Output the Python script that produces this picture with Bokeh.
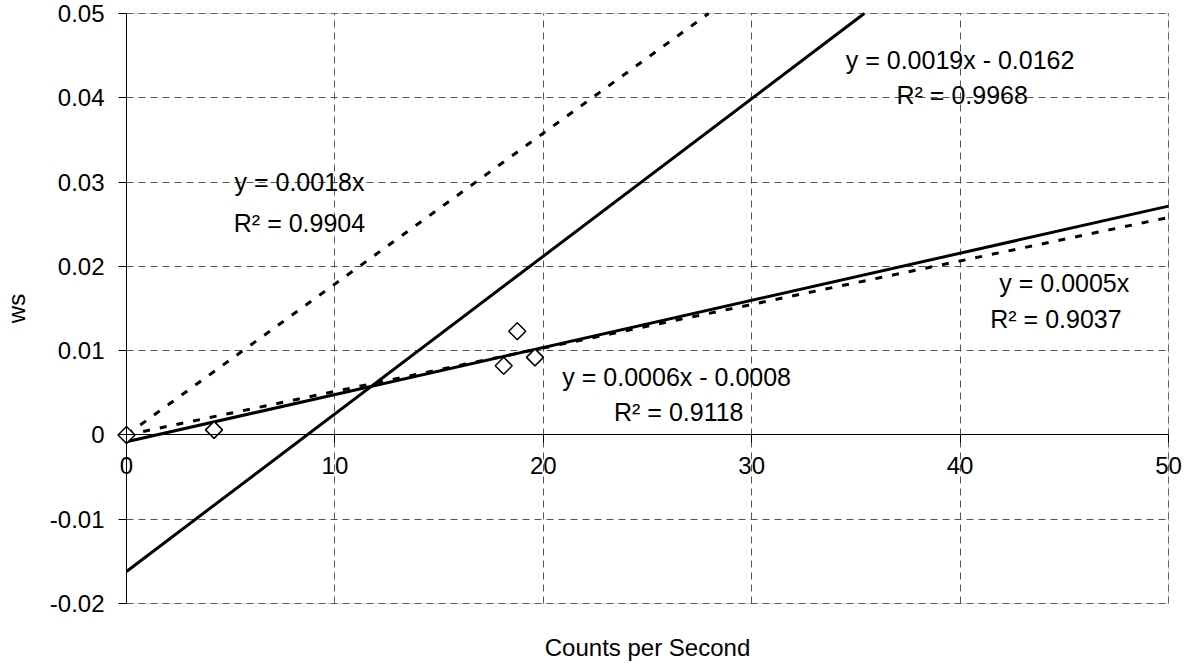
import math
from bokeh.plotting import figure
from bokeh.models import (Range1d, FixedTicker, ColumnDataSource, Label,
                          BoxAnnotation)
from bokeh.embed import file_html
from bokeh.resources import INLINE
from bokeh.core.properties import value

# ---- data ----
x_ticks = [0, 10, 20, 30, 40, 50]
x_tick_labels = ["0", "10", "20", "30", "40", "50"]
y_ticks = [-0.02, -0.01, 0, 0.01, 0.02, 0.03, 0.04, 0.05]
y_tick_labels = ["-0.02", "-0.01", "0", "0.01", "0.02", "0.03", "0.04", "0.05"]

counts_per_second = [0.0, 4.2, 18.1, 18.75, 19.6]
ws_values = [0.0, 0.0006, 0.0082, 0.0123, 0.0092]

trend_slope = [0.000559, 0.000516, 0.00187, 0.00179]
trend_intercept = [-0.0008, 0.0, -0.0162, 0.0]
trend_dash = ["solid", "7 10", "solid", "7 10"]

eq_text = ["y = 0.0019x - 0.0162", "R\u00b2 = 0.9968",
           "y = 0.0018x", "R\u00b2 = 0.9904",
           "y = 0.0005x", "R\u00b2 = 0.9037",
           "y = 0.0006x - 0.0008", "R\u00b2 = 0.9118"]
eq_x = [40.0, 40.1, 8.3, 8.3, 45.0, 44.6, 26.4, 26.5]
eq_y = [0.0445, 0.0403, 0.0300, 0.0252, 0.0180, 0.0138, 0.0069, 0.0027]

FONT = "Liberation Sans"
W, H = 1190, 663

# plot-area limits (axis bounds)
x_lo, x_hi = x_ticks[0], x_ticks[-1]
y_lo, y_hi = y_ticks[0], y_ticks[-1]

# The frame fills the whole canvas; the plot area (0..50, -0.02..0.05) sits at
# pixels 126..1168 horizontally and 13..603 vertically, so that the axes (which
# cross inside the frame) and their labels are not clipped.
px_left, px_right, px_top, px_bottom = 126, 1168, 13, 603
ux = (px_right - px_left) / (x_hi - x_lo)
uy = (px_bottom - px_top) / (y_hi - y_lo)
xr = Range1d(x_lo - px_left / ux, x_hi + (W - px_right) / ux)
yr = Range1d(y_lo - (H - px_bottom) / uy, y_hi + px_top / uy)

p = figure(width=W, height=H, output_backend="svg", toolbar_location=None,
           x_range=xr, y_range=yr, min_border=0,
           background_fill_color="white", border_fill_color="white")
p.outline_line_color = None

# border of the plot area
p.add_layout(BoxAnnotation(left=x_lo, right=x_hi, bottom=y_lo, top=y_hi,
                           fill_alpha=0, line_color="#808080", line_width=1,
                           level="underlay"))

# grids
p.xgrid.ticker = FixedTicker(ticks=x_ticks)
p.ygrid.ticker = FixedTicker(ticks=y_ticks)
p.xgrid.cross_bounds = (y_lo, y_hi)
p.ygrid.cross_bounds = (x_lo, x_hi)
for g in (p.xgrid[0], p.ygrid[0]):
    g.grid_line_color = "#555555"
    g.grid_line_dash = "7 5"
    g.grid_line_width = 1

# x axis crossing at y = 0
xa = p.xaxis[0]
xa.ticker = FixedTicker(ticks=x_ticks)
xa.major_label_overrides = {t: s for t, s in zip(x_ticks, x_tick_labels)}
xa.fixed_location = 0
xa.bounds = (x_lo, x_hi)
xa.axis_line_color = "black"
xa.major_tick_out = 8
xa.major_tick_in = 0
xa.minor_tick_line_color = None
xa.major_label_standoff = 14
xa.major_label_text_font = FONT
xa.major_label_text_font_size = "24px"
xa.major_label_text_color = "black"

# y axis at x = 0
ya = p.yaxis[0]
ya.ticker = FixedTicker(ticks=y_ticks)
ya.major_label_overrides = {t: s for t, s in zip(y_ticks, y_tick_labels)}
ya.fixed_location = 0
ya.bounds = (y_lo, y_hi)
ya.axis_line_color = "black"
ya.major_tick_out = 8
ya.major_tick_in = 0
ya.minor_tick_line_color = None
ya.major_label_standoff = 14
ya.major_label_text_font = FONT
ya.major_label_text_font_size = "24px"
ya.major_label_text_color = "black"
ya.axis_label = "ws"
ya.axis_label_standoff = 17
ya.axis_label_text_font = FONT
ya.axis_label_text_font_size = "24px"
ya.axis_label_text_font_style = "normal"
ya.axis_label_text_color = "black"

# x axis title under the plot area
p.add_layout(Label(x=(x_lo + x_hi) / 2, y=y_lo, y_offset=-44,
                   text="Counts per Second", text_align="center",
                   text_baseline="middle", text_font=FONT,
                   text_font_size="24px", text_color="black"))

# trendlines, limited to the plot area
for m, b, d in zip(trend_slope, trend_intercept, trend_dash):
    xs = x_lo if m * x_lo + b >= y_lo else (y_lo - b) / m
    xe = x_hi if m * x_hi + b <= y_hi else (y_hi - b) / m
    p.line([xs, xe], [m * xs + b, m * xe + b], line_color="black",
           line_width=3, line_dash=d)

# data points (diamonds)
p.scatter(counts_per_second, ws_values, marker="square", angle=math.pi / 4,
          size=12, fill_color="white", line_color="black", line_width=1.5)

# equation labels
src = ColumnDataSource(dict(x=eq_x, y=eq_y, text=eq_text))
p.text(x="x", y="y", text="text", source=src, text_align="center",
       text_baseline="middle", text_font=value(FONT),
       text_font_size=value("25px"), text_color="black")

open("out.html", "w").write(file_html(p, INLINE))
